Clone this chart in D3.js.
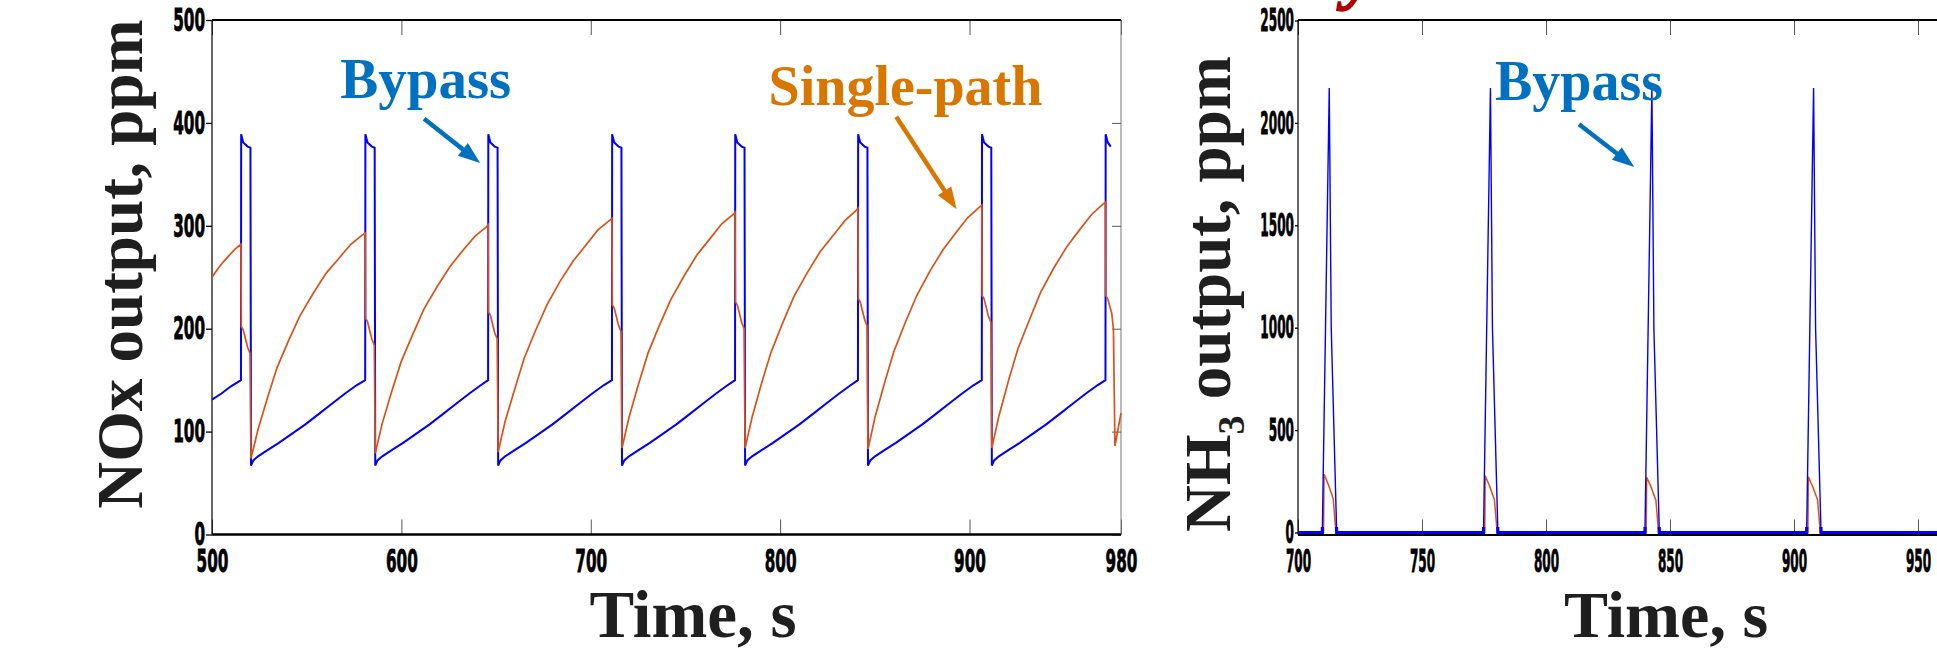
<!DOCTYPE html>
<html>
<head>
<meta charset="utf-8">
<script src="https://cdn.jsdelivr.net/npm/d3@7"></script>
<style>
  body { margin: 0; background: #fff; overflow: hidden; }
</style>
</head>
<body>
<div id="chart"></div>
<script>
// ---- data ----
var noxXTicks = [500, 600, 700, 800, 900, 980]
var noxYTicks = [0, 100, 200, 300, 400, 500]
var nh3XTicks = [700, 750, 800, 850, 900, 950]
var nh3YTicks = [0, 500, 1000, 1500, 2000, 2500]

// NOx output, Bypass (blue) [time s, ppm]
var noxBypass = [
  [500, 131], [505, 137], [510, 144], [515.3, 150],
  [515.4, 389], [516.5, 381], [518.8, 377], [520.3, 376], [520.6, 67], [521.8, 72], [524.3, 76], [529.3, 82], [535.3, 89], [542.3, 98], [549.3, 107], [556.3, 117], [563.3, 127], [570.3, 137], [576.3, 145], [580.9, 150],
  [581.0, 389], [582.1, 381], [584.4, 377], [585.9, 376], [586.2, 67], [587.4, 72], [589.9, 76], [594.9, 82], [600.9, 89], [607.9, 98], [614.9, 107], [621.9, 117], [628.9, 127], [635.9, 137], [641.9, 145], [645.8, 150],
  [645.9, 389], [647.0, 381], [649.3, 377], [650.8, 376], [651.1, 67], [652.3, 72], [654.8, 76], [659.8, 82], [665.8, 89], [672.8, 98], [679.8, 107], [686.8, 117], [693.8, 127], [700.8, 137], [706.8, 145], [711.2, 150],
  [711.3, 389], [712.4, 381], [714.7, 377], [716.2, 376], [716.5, 67], [717.7, 72], [720.2, 76], [725.2, 82], [731.2, 89], [738.2, 98], [745.2, 107], [752.2, 117], [759.2, 127], [766.2, 137], [772.2, 145], [776.2, 150],
  [776.3, 389], [777.4, 381], [779.7, 377], [781.2, 376], [781.5, 67], [782.7, 72], [785.2, 76], [790.2, 82], [796.2, 89], [803.2, 98], [810.2, 107], [817.2, 117], [824.2, 127], [831.2, 137], [837.2, 145], [841.1, 150],
  [841.2, 389], [842.3, 381], [844.6, 377], [846.1, 376], [846.4, 67], [847.6, 72], [850.1, 76], [855.1, 82], [861.1, 89], [868.1, 98], [875.1, 107], [882.1, 117], [889.1, 127], [896.1, 137], [902.1, 145], [906.5, 150],
  [906.6, 389], [907.7, 381], [910.0, 377], [911.5, 376], [911.8, 67], [913.0, 72], [915.5, 76], [920.5, 82], [926.5, 89], [933.5, 98], [940.5, 107], [947.5, 117], [954.5, 127], [961.5, 137], [967.5, 145], [971.8, 150],
  [971.9, 389], [973.0, 381], [974.6, 377]
]

// NOx output, Single-path (orange)
var noxSingle = [
  [500, 250], [503, 258], [506, 265], [509, 271], [512, 277], [515.3, 282],
  [515.5, 202], [516.5, 199], [518.8, 182], [520.1, 176], [520.6, 74], [524.3, 102], [529.3, 133], [534.3, 162], [540.3, 188], [546.3, 212], [553.3, 234], [560.3, 254], [567.3, 269], [573.3, 282], [579.3, 291], [580.9, 293],
  [581.1, 210], [582.1, 207], [584.4, 190], [585.7, 184], [586.2, 79], [589.9, 108], [594.9, 139], [599.9, 168], [605.9, 194], [611.9, 219], [618.9, 241], [625.9, 261], [632.9, 277], [638.9, 290], [644.9, 299], [645.8, 301],
  [646.0, 216], [647.0, 213], [649.3, 196], [650.6, 190], [651.1, 80], [654.8, 110], [659.8, 141], [664.8, 171], [670.8, 198], [676.8, 223], [683.8, 246], [690.8, 266], [697.8, 282], [703.8, 296], [709.8, 305], [711.2, 307],
  [711.4, 223], [712.4, 220], [714.7, 203], [716.0, 197], [716.5, 84], [720.2, 114], [725.2, 146], [730.2, 176], [736.2, 203], [742.2, 228], [749.2, 251], [756.2, 272], [763.2, 288], [769.2, 302], [775.2, 311], [776.2, 313],
  [776.4, 226], [777.4, 223], [779.7, 206], [781.0, 200], [781.5, 84], [785.2, 114], [790.2, 147], [795.2, 177], [801.2, 205], [807.2, 231], [814.2, 254], [821.2, 275], [828.2, 291], [834.2, 305], [840.2, 315], [841.1, 317],
  [841.3, 229], [842.3, 226], [844.6, 209], [845.9, 203], [846.4, 83], [850.1, 114], [855.1, 147], [860.1, 178], [866.1, 206], [872.1, 232], [879.1, 256], [886.1, 277], [893.1, 294], [899.1, 308], [905.1, 318], [906.5, 320],
  [906.7, 232], [907.7, 229], [910.0, 212], [911.3, 206], [911.8, 84], [915.5, 115], [920.5, 149], [925.5, 180], [931.5, 208], [937.5, 235], [944.5, 259], [951.5, 280], [958.5, 297], [964.5, 311], [970.5, 321], [971.8, 323],
  [972.0, 232], [973.0, 229], [975.1, 215], [976.0, 200], [976.8, 86], [980, 118]
]

// NH3 output, Bypass (blue)
var nh3Bypass = [
  [700, 0], [709.8, 0], [712.6, 2170], [713.4, 1000], [715.6, 0],
  [774.8, 0], [777.6, 2170], [778.4, 1000], [780.6, 0],
  [839.9, 0], [842.7, 2170], [843.5, 1000], [845.7, 0],
  [905.1, 0], [907.9, 2170], [908.7, 1000], [910.9, 0],
  [1000, 0]
]

// NH3 output, Single-path (orange)
var nh3Single = [
  [700, 0], [710.3, 0], [710.5, 285], [712.2, 235], [714.2, 165], [715.3, 0],
  [775.3, 0], [775.5, 277], [777.2, 228], [779.2, 160], [780.3, 0],
  [840.4, 0], [840.6, 270], [842.3, 224], [844.3, 158], [845.4, 0],
  [905.6, 0], [905.8, 272], [907.5, 225], [909.5, 160], [910.6, 0],
  [1000, 0]
]

var blue = "#0000ff", orange = "#d95319"
var noteBlue = "#0070c0", noteOrange = "#d97600"
var titleFont = "'Liberation Serif', 'Times New Roman', serif"
var tickFont = "'DejaVu Sans Condensed', 'Liberation Sans Narrow', sans-serif"

var svg = d3.select("#chart").append("svg")
  .attr("width", 1937)
  .attr("height", 652)

var xNox = d3.scaleLinear().domain([500, 980]).range([212, 1121])
var yNox = d3.scaleLinear().domain([0, 500]).range([534.5, 20])
var xNh3 = d3.scaleLinear().domain([700, 1000]).range([1298, 2042])
var yNh3 = d3.scaleLinear().domain([0, 2500]).range([532.5, 20.5])

function labels(sel, sx, x) {
  sel.selectAll("text")
    .attr("font-family", tickFont)
    .attr("font-weight", "bold")
    .attr("font-size", 32)
    .attr("fill", "#000")
    .attr("stroke", "#000")
    .attr("stroke-width", 0.8)
    .attr("transform", "scale(" + sx + ",1)")
  if (x != null) sel.selectAll("text").attr("x", x / sx)
}

function frame(x, y, xTicks, yTicks, sx, yTick, rightEdge) {
  var g = svg.append("g")
  var x0 = x.range()[0], x1 = x.range()[1]
  var yb = 534.5, yt = 20

  // inner ticks top and bottom
  g.append("g").attr("transform", "translate(0," + yt + ")")
    .call(d3.axisTop(x).tickValues(xTicks).tickSize(-15).tickFormat(""))
  var bx = g.append("g").attr("transform", "translate(0," + yb + ")")
    .call(d3.axisBottom(x).tickValues(xTicks).tickSize(-15).tickPadding(14).tickFormat(d3.format("d")))
  labels(bx, sx)
  bx.selectAll("text").attr("dy", "0.72em")

  var ly = g.append("g").attr("transform", "translate(" + x0 + ",0)")
    .call(d3.axisLeft(y).tickValues(yTicks).tickSize(yTick).tickPadding(1).tickFormat(d3.format("d")))
  labels(ly, sx, -(yTick + 1))

  if (rightEdge) {
    g.append("g").attr("transform", "translate(" + x1 + ",0)")
      .call(d3.axisRight(y).tickValues(yTicks).tickSize(-9).tickFormat(""))
  }

  g.selectAll(".domain").remove()
  g.selectAll(".tick line").attr("stroke", "#555").attr("stroke-width", 1)
  ly.selectAll(".tick line").attr("stroke", "#000").attr("stroke-width", 1.3)

  // frame lines
  g.append("line").attr("x1", x0).attr("x2", x0).attr("y1", yt).attr("y2", yb)
    .attr("stroke", "#000").attr("stroke-width", 1.2)
  if (rightEdge) {
    g.append("line").attr("x1", x1).attr("x2", x1).attr("y1", yt).attr("y2", yb)
      .attr("stroke", "#777").attr("stroke-width", 1)
  }
  g.append("line").attr("x1", x0).attr("x2", x1).attr("y1", yt).attr("y2", yt)
    .attr("stroke", "#000").attr("stroke-width", 2)
  return g
}

function arrow(x1, y1, x2, y2, color) {
  var dx = x2 - x1, dy = y2 - y1, len = Math.sqrt(dx * dx + dy * dy)
  var ux = dx / len, uy = dy / len, hl = 22, hw = 8
  var bx = x2 - ux * hl, by = y2 - uy * hl
  svg.append("line")
    .attr("x1", x1).attr("y1", y1).attr("x2", bx + ux * 2).attr("y2", by + uy * 2)
    .attr("stroke", color).attr("stroke-width", 4.5)
  svg.append("polygon")
    .attr("points", [[x2, y2], [bx - uy * hw, by + ux * hw], [bx + uy * hw, by - ux * hw]].join(" "))
    .attr("fill", color)
}

// ---- left panel: NOx ----
frame(xNox, yNox, noxXTicks, noxYTicks, 0.53, 6, true)

var lineNox = d3.line().x(d => xNox(d[0])).y(d => yNox(d[1]))
svg.append("path").datum(noxBypass)
  .attr("d", lineNox)
  .attr("fill", "none")
  .attr("stroke", blue)
  .attr("stroke-width", 2)
svg.append("path").datum(noxSingle)
  .attr("d", lineNox)
  .attr("fill", "none")
  .attr("stroke", orange)
  .attr("stroke-width", 1.7)

// ---- right panel: NH3 ----
frame(xNh3, yNh3, nh3XTicks, nh3YTicks, 0.42, 3, false)

svg.append("clipPath").attr("id", "base")
  .append("rect").attr("x", 1290).attr("y", 527).attr("width", 700).attr("height", 12)

var lineNh3 = d3.line().x(d => xNh3(d[0])).y(d => yNh3(d[1]))
svg.append("path").datum(nh3Single)
  .attr("d", lineNh3)
  .attr("fill", "none")
  .attr("stroke", orange)
  .attr("stroke-width", 1.5)
svg.append("path").datum(nh3Bypass)
  .attr("d", lineNh3)
  .attr("fill", "none")
  .attr("stroke", blue)
  .attr("stroke-width", 1.4)
// thick baseline part of the same series
svg.append("path").datum(nh3Bypass)
  .attr("d", lineNh3)
  .attr("clip-path", "url(#base)")
  .attr("fill", "none")
  .attr("stroke", blue)
  .attr("stroke-width", 3.2)

// bottom frame lines over the data
svg.append("line").attr("x1", 212).attr("x2", 1121).attr("y1", 534.5).attr("y2", 534.5)
  .attr("stroke", "#000").attr("stroke-width", 2.4)
svg.append("line").attr("x1", 1298).attr("x2", 2042).attr("y1", 535).attr("y2", 535)
  .attr("stroke", "#000").attr("stroke-width", 2)

// ---- axis titles ----
svg.append("text")
  .text("NOx output, ppm")
  .attr("transform", "translate(142,264) rotate(-90)")
  .attr("text-anchor", "middle")
  .attr("font-family", titleFont)
  .attr("font-weight", "bold")
  .attr("font-size", 65)
  .attr("fill", "#1f1f1f")

var t2 = svg.append("text")
  .attr("transform", "translate(1230,532) rotate(-90)")
  .attr("font-family", titleFont)
  .attr("font-weight", "bold")
  .attr("font-size", 65)
  .attr("fill", "#1f1f1f")
t2.append("tspan").text("NH")
t2.append("tspan").text("3").attr("font-size", 38).attr("dy", 14)
t2.append("tspan").text(" output, ppm").attr("dy", -14)

svg.append("text")
  .text("Time, s")
  .attr("x", 693).attr("y", 637)
  .attr("text-anchor", "middle")
  .attr("font-family", titleFont)
  .attr("font-weight", "bold")
  .attr("font-size", 67)
  .attr("fill", "#1f1f1f")

svg.append("text")
  .text("Time, s")
  .attr("x", 1666).attr("y", 637)
  .attr("text-anchor", "middle")
  .attr("font-family", titleFont)
  .attr("font-weight", "bold")
  .attr("font-size", 66)
  .attr("fill", "#1f1f1f")

// fragment of a red heading cut by the top edge
svg.append("text")
  .text("y")
  .attr("x", 1344).attr("y", -4)
  .attr("font-family", titleFont)
  .attr("font-weight", "bold")
  .attr("font-style", "italic")
  .attr("font-size", 72)
  .attr("fill", "#b00000")
  .attr("stroke", "#b00000")
  .attr("stroke-width", 1.5)

// ---- annotations (in data units) ----
svg.append("text")
  .text("Bypass")
  .attr("x", xNox(567.7)).attr("y", yNox(424))
  .attr("font-family", titleFont)
  .attr("font-weight", "bold")
  .attr("font-size", 57)
  .attr("fill", noteBlue)
arrow(xNox(612), yNox(404), xNox(641.6), yNox(361), noteBlue)

svg.append("text")
  .text("Single-path")
  .attr("x", xNox(793.9)).attr("y", yNox(417))
  .attr("font-family", titleFont)
  .attr("font-weight", "bold")
  .attr("font-size", 56)
  .attr("fill", noteOrange)
arrow(xNox(861.3), yNox(406), xNox(893.2), yNox(316), noteOrange)

svg.append("text")
  .text("Bypass")
  .attr("x", xNh3(779.4)).attr("y", yNh3(2110))
  .attr("font-family", titleFont)
  .attr("font-weight", "bold")
  .attr("font-size", 56)
  .attr("fill", noteBlue)
arrow(xNh3(813.3), yNh3(1993), xNh3(835.6), yNh3(1785), noteBlue)
</script>
</body>
</html>
